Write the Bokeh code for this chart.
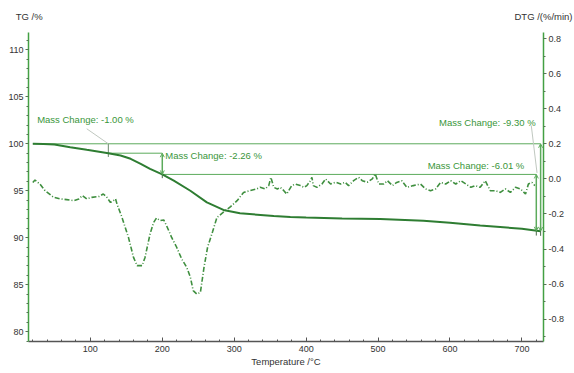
from bokeh.plotting import figure
from bokeh.models import (Range1d, LinearAxis, SingleIntervalTicker, NumeralTickFormatter,
                          FixedTicker, Label, Arrow, OpenHead)
from bokeh.embed import file_html
from bokeh.resources import INLINE

# ---------------- data ----------------
tg_temp = [20, 35, 50, 72, 95, 125, 142, 156, 170, 183, 200, 216, 239, 262, 285, 308, 332,
           355, 378, 400, 450, 503, 563, 600, 642, 700, 726]
tg_mass = [100.0, 99.98, 99.92, 99.64, 99.36, 99.0, 98.75, 98.4, 97.87, 97.33, 96.74, 96.08,
           95.0, 93.77, 92.96, 92.6, 92.45, 92.3, 92.2, 92.14, 92.05, 92.0, 91.8, 91.6, 91.3,
           90.95, 90.7]

dtg_temp = [20, 23, 30, 37, 49, 58, 67, 77, 84, 89, 95, 102, 112, 118, 123, 128, 132, 135, 137,
            144, 153, 160, 165, 172, 176, 183, 188, 192, 197, 202, 206, 213, 220, 227, 234, 239,
            243, 248, 253, 258, 263, 270, 276, 285, 295, 304, 313, 322, 331,
            336, 343, 348, 351, 355, 360, 364, 369, 373, 380, 385, 392, 397, 401, 406, 408, 410,
            415, 422, 427, 434, 441, 448, 454, 459, 466, 473, 478, 485, 492, 496, 501, 508, 513,
            520, 526, 533, 540, 549, 559, 566, 573, 580, 587, 594, 601, 608, 615, 622, 629, 635,
            642, 649, 656, 663, 670, 677, 684, 691, 698, 705, 709, 714, 718]
dtg_rate = [-0.02, -0.006, -0.03, -0.067, -0.105, -0.114, -0.118, -0.124, -0.114, -0.095, -0.114,
            -0.105, -0.1, -0.086, -0.105, -0.134, -0.124, -0.114, -0.143,
            -0.22, -0.334, -0.448, -0.495, -0.495, -0.448, -0.314, -0.248, -0.223, -0.238, -0.234,
            -0.267, -0.334, -0.39, -0.457, -0.505, -0.56, -0.638, -0.657, -0.648, -0.505, -0.39,
            -0.3, -0.22, -0.19, -0.158, -0.124, -0.077, -0.067, -0.057,
            -0.048, -0.057, -0.038, 0.009, -0.048, -0.057, -0.048, -0.067, -0.086, -0.038, -0.029,
            -0.038, -0.048, -0.038, -0.01, 0.009, -0.038, -0.048, -0.029, 0.0, -0.029, -0.019,
            -0.029, -0.019, -0.038, -0.01, 0.009, -0.01, -0.019, 0.0, 0.029, -0.029, -0.029, -0.01,
            -0.038, -0.02, -0.01, -0.048, -0.038, -0.029, -0.057, -0.067, -0.057, -0.02, -0.029,
            -0.01, -0.029, -0.01, -0.029, -0.048, -0.038, -0.048, -0.01, -0.067, -0.067, -0.077,
            -0.057, -0.077, -0.048, -0.057, -0.086, -0.029, -0.02, -0.038]

# mass-change steps: start/end temperatures and change values
mc_start = [20, 125, 200, 20]
mc_end = [125, 200, 720, 726]
mc_value = [-1.00, -2.26, -6.01, -9.30]

x_axis_title = "Temperature /°C"
left_title = "TG /%"
right_title = "DTG /(%/min)"

# ---------------- styling ----------------
FONT = "Liberation Sans"
TG_COLOR = "#2e7d32"
DTG_COLOR = "#3f8f3f"
ANN_COLOR = "#5cab5c"
TXT_COLOR = "#3a963a"
AXIS_GREEN = "#43a043"

X0, X1 = 14, 730
Y0, Y1 = 78.95, 111.85
D0, D1 = -0.928, 0.836

p = figure(width=574, height=373, x_range=Range1d(X0, X1), y_range=Range1d(Y0, Y1),
           output_backend="svg", toolbar_location=None,
           min_border_left=28, min_border_right=31, min_border_top=32, min_border_bottom=32)
p.extra_y_ranges = {"dtg": Range1d(D0, D1)}
p.grid.visible = False
p.outline_line_color = None
p.background_fill_color = "white"

# x axis
xa = p.xaxis[0]
xa.ticker = SingleIntervalTicker(interval=100, num_minor_ticks=5)
xa.axis_label = x_axis_title
xa.axis_label_text_font = FONT
xa.axis_label_text_font_size = "9.5px"
xa.axis_label_text_font_style = "normal"
xa.axis_label_text_color = "#333333"
xa.axis_label_standoff = 1
xa.major_label_text_font = FONT
xa.major_label_text_font_size = "9px"
xa.major_label_text_color = "#333333"
xa.major_label_standoff = 4
xa.axis_line_color = "#555555"
xa.axis_line_width = 1.5
xa.major_tick_in = 4
xa.major_tick_out = 0
xa.minor_tick_in = 2
xa.minor_tick_out = 0
xa.major_tick_line_color = "#555555"
xa.minor_tick_line_color = "#555555"

# left axis
ya = p.yaxis[0]
ya.ticker = SingleIntervalTicker(interval=5, num_minor_ticks=5)
ya.major_label_text_font = FONT
ya.major_label_text_font_size = "9px"
ya.major_label_text_color = "#333333"
ya.major_label_standoff = 2
ya.axis_line_color = AXIS_GREEN
ya.axis_line_width = 1.5
ya.major_tick_out = 3
ya.major_tick_in = 0
ya.minor_tick_out = 2
ya.minor_tick_in = 0
ya.major_tick_line_color = "#557755"
ya.minor_tick_line_color = "#557755"

# right axis
ra = LinearAxis(y_range_name="dtg", ticker=SingleIntervalTicker(interval=0.2, num_minor_ticks=2),
                formatter=NumeralTickFormatter(format="0.0"))
ra.major_label_text_font = FONT
ra.major_label_text_font_size = "9px"
ra.major_label_text_color = "#333333"
ra.major_label_standoff = 2
ra.axis_line_color = AXIS_GREEN
ra.axis_line_width = 1.5
ra.major_tick_out = 3
ra.major_tick_in = 0
ra.minor_tick_out = 2
ra.minor_tick_in = 0
ra.major_tick_line_color = "#557755"
ra.minor_tick_line_color = "#557755"
p.add_layout(ra, "right")

# axis titles at the top corners: an invisible top axis carrying two labels
title_pos = [15, 730]
ta = LinearAxis(ticker=FixedTicker(ticks=title_pos, minor_ticks=[]),
                major_label_overrides={title_pos[0]: left_title, title_pos[1]: right_title})
ta.axis_line_color = None
ta.major_tick_line_color = None
ta.minor_tick_line_color = None
ta.major_tick_in = 0
ta.major_tick_out = 0
ta.minor_tick_in = 0
ta.minor_tick_out = 0
ta.major_label_standoff = 11
ta.major_label_text_font = FONT
ta.major_label_text_font_size = "9.5px"
ta.major_label_text_color = "#333333"
p.add_layout(ta, "above")

# ---------------- mass change annotations ----------------
def tg_at(t):
    for i in range(len(tg_temp) - 1):
        if tg_temp[i] <= t <= tg_temp[i + 1]:
            f = (t - tg_temp[i]) / (tg_temp[i + 1] - tg_temp[i])
            return tg_mass[i] + f * (tg_mass[i + 1] - tg_mass[i])
    return tg_mass[-1]

lvl0 = tg_at(mc_start[0])
lvl1 = lvl0 + mc_value[0]
lvl2 = lvl1 + mc_value[1]
lvl3 = lvl2 + mc_value[2]
lvl_tot = lvl0 + mc_value[3]

# horizontal reference lines
p.segment(x0=[mc_start[0], mc_end[0], mc_end[1]], y0=[lvl0, lvl1, lvl2],
          x1=[mc_end[3], mc_end[1], mc_end[2]], y1=[lvl0, lvl1, lvl2],
          line_color=ANN_COLOR, line_width=1)

# vertical marker at first step
p.segment(x0=[mc_end[0]], y0=[lvl0], x1=[mc_end[0]], y1=[lvl1 - 0.4],
          line_color="#6b8a6b", line_width=1)
# markers at ends
p.segment(x0=[mc_end[1], mc_end[2], mc_end[3]], y0=[lvl2 + 0.3, lvl3 + 0.5, lvl_tot + 0.5],
          x1=[mc_end[1], mc_end[2], mc_end[3]], y1=[lvl2 - 0.4, lvl3 - 0.5, lvl_tot - 0.5],
          line_color="#4a6a4a", line_width=1)

# double arrows
for xs, ya_, yb in [(mc_end[1], lvl1, lvl2), (mc_end[2], lvl2, lvl3), (mc_end[3], lvl0, lvl_tot)]:
    p.add_layout(Arrow(start=OpenHead(size=4, line_color=ANN_COLOR, line_width=1),
                       end=OpenHead(size=4, line_color=ANN_COLOR, line_width=1),
                       x_start=xs, y_start=ya_, x_end=xs, y_end=yb,
                       line_color=ANN_COLOR, line_width=1.5))

# leader lines
p.segment(x0=[95, 713], y0=[101.6, 101.95], x1=[mc_end[0], 721], y1=[lvl0, 96.9],
          line_color="#c0c8c0", line_width=1)

# ---------------- curves ----------------
p.line(dtg_temp, dtg_rate, y_range_name="dtg", line_color=DTG_COLOR, line_width=1.6,
       line_dash="5 2 1 2")
p.line(tg_temp, tg_mass, line_color=TG_COLOR, line_width=2)

# labels
def mc_label(x, y, txt, align, xo=0):
    p.add_layout(Label(x=x, y=y, x_offset=xo, text=txt, text_font=FONT, text_font_size="9.5px",
                       text_color=TXT_COLOR, text_align=align, text_baseline="middle"))

mc_label(26, 102.6, "Mass Change: %.2f %%" % mc_value[0], "left")
mc_label(mc_end[1], 98.75, "Mass Change: %.2f %%" % mc_value[1], "left", 3)
mc_label(mc_end[2], 97.68, "Mass Change: %.2f %%" % mc_value[2], "right", -12)
mc_label(mc_end[3], 102.3, "Mass Change: %.2f %%" % mc_value[3], "right", -5)

open("out.html", "w").write(file_html(p, INLINE))
